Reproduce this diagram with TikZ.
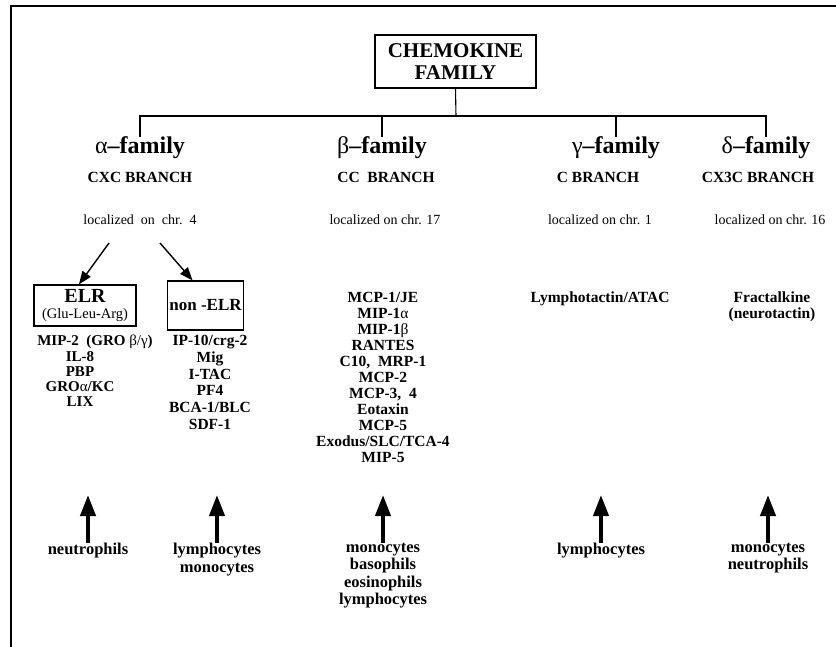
\documentclass[tikz,border=0pt]{standalone}
\usepackage{fontspec}
\setmainfont{Liberation Serif}
\usetikzlibrary{arrows.meta}
\newcommand{\fsz}[2]{\fontsize{#1}{#2}\selectfont}
\begin{document}
\begin{tikzpicture}[x=1pt,y=-1pt,
  txt/.style={inner sep=0pt, align=center},
  hdr/.style={txt, font=\fsz{24}{26}\bfseries, anchor=base},
  brn/.style={txt, font=\fsz{15.5}{17}\bfseries, anchor=base},
  loc/.style={txt, font=\fsz{14}{15}, anchor=base},
  lst/.style={txt, font=\fsz{15.5}{16}\bfseries, anchor=north},
  cell/.style={txt, font=\fsz{16.5}{17.5}\bfseries, anchor=north},
  frm/.style={line width=1.8pt},
  con/.style={line width=1.1pt},
  diag/.style={line width=1.4pt, -{Triangle[length=13pt,width=10pt]}},
  uparr/.style={line width=4pt, -{Triangle[length=21pt,width=15pt]}},
  bx/.style={draw, line width=1.3pt, inner sep=0pt, align=center}
]
\useasboundingbox (0,0) rectangle (836,647);

% frame
\coordinate (fbl) at (11,647);
\coordinate (ftl) at (11,6);
\coordinate (ftr) at (836,6);
\draw[frm] (fbl) -- (ftl) -- (ftr);

% root
\node[bx, minimum width=161pt, minimum height=53pt, font=\fsz{21}{22}\bfseries] (fam) at (455.5,61.5) {CHEMOKINE\\FAMILY};
\coordinate (bus) at (456,116);
\draw[con] (fam.south) -- (bus);

% families
\node[hdr] (afam) at (140,154) {{\mdseries α}–family};
\node[hdr] (bfam) at (382,154) {{\mdseries β}–family};
\node[hdr] (gfam) at (616,154) {{\mdseries γ}–family};
\node[hdr] (dfam) at (766,154) {{\mdseries δ}–family};
\draw[con] (afam.north) |- (bus);
\draw[con] (bfam.north) -- (bfam.north |- bus);
\draw[con] (gfam.north) |- (bus);
\draw[con] (dfam.north) |- (bus);

% branches
\node[brn] (abr) at (140,183) {CXC BRANCH};
\node[brn] (bbr) at (386,183) {CC \ BRANCH};
\node[brn] (gbr) at (598,183) {C BRANCH};
\node[brn] (dbr) at (758,183) {CX3C BRANCH};

% localization
\node[loc] (aloc) at (140,225) {localized\hspace{7pt}on\hspace{7pt}chr.\hspace{7pt}4};
\node[loc] (bloc) at (385,225) {localized on chr. 17};
\node[loc] (gloc) at (600,225) {localized on chr. 1};
\node[loc] (dloc) at (770,225) {localized on chr. 16};

% ELR / non-ELR boxes
\node[bx, minimum width=102pt, minimum height=41pt, font=\fsz{20}{16}\bfseries] (elr) at (85,305.5) {ELR\\{\fsz{14.5}{13}\mdseries(Glu-Leu-Arg)}};
\node[bx, minimum width=76pt, minimum height=49pt, font=\fsz{17}{18}\bfseries] (nelr) at (205.5,305.5) {non -ELR};
\coordinate (a1s) at (109,243);
\coordinate (a2s) at (160,243);
\draw[diag] (a1s) -- ([xshift=-6pt]elr.north);
\draw[diag] (a2s) -- ([xshift=-13pt]nelr.north);

% member lists
\node[lst, font=\fsz{15}{15.3}\bfseries] (elrl) at (80,335) {\hspace*{30pt}MIP-2 \ (GRO {\mdseries β/γ})\\IL-8\\PBP\\GRO{\mdseries α}/KC\\LIX};
\node[lst, font=\fsz{15.5}{16.8}\bfseries] (nelrl) at (210,335) {IP-10/crg-2\\Mig\\I-TAC\\PF4\\BCA-1/BLC\\SDF-1};
\node[lst] (bl) at (383,292) {MCP-1/JE\\MIP-1{\mdseries α}\\MIP-1{\mdseries β}\\RANTES\\C10, \ MRP-1\\MCP-2\\MCP-3, \ 4\\Eotaxin\\MCP-5\\Exodus/SLC/TCA-4\\MIP-5};
\node[lst] (gl) at (600,292) {Lymphotactin/ATAC};
\node[lst] (dl) at (772,292) {Fractalkine\\(neurotactin)};

% target cells
\node[cell] (c1) at (88,543) {neutrophils};
\node[cell] (c2) at (217,543) {lymphocytes\\monocytes};
\node[cell] (c3) at (383,543) {monocytes\\basophils\\eosinophils\\lymphocytes};
\node[cell] (c4) at (601,543) {lymphocytes};
\node[cell] (c5) at (768,543) {monocytes\\neutrophils};
\coordinate (u1) at (88,495);
\coordinate (u2) at (217,495);
\coordinate (u3) at (383,495);
\coordinate (u4) at (601,495);
\coordinate (u5) at (768,495);
\draw[uparr] (c1.north) -- (u1);
\draw[uparr] (c2.north) -- (u2);
\draw[uparr] (c3.north) -- (u3);
\draw[uparr] (c4.north) -- (u4);
\draw[uparr] (c5.north) -- (u5);
\end{tikzpicture}
\end{document}
